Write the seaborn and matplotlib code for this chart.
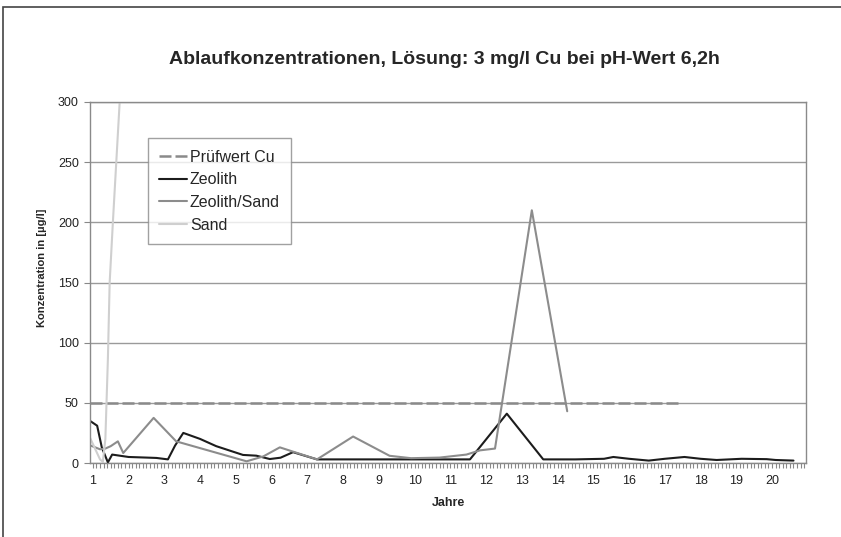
import matplotlib
matplotlib.use("Agg")
import matplotlib.pyplot as plt
from matplotlib.ticker import MultipleLocator
from matplotlib.patches import Rectangle
import seaborn as sns

# values (x = Jahre, y = µg/l)
zeolith_x = [0.92, 1.12, 1.25, 1.42, 1.54, 2.0, 2.5, 2.78, 3.1, 3.3, 3.53, 4.0, 4.45,
             5.2, 5.57, 5.95, 6.25, 6.6, 7.27, 8.0, 9.0, 10.0, 11.0, 11.55, 12.58,
             13.6, 14.5, 15.3, 15.56, 16.0, 16.55, 17.0, 17.55, 18.0, 18.45, 19.15,
             19.85, 20.1, 20.6]
zeolith_y = [35, 31, 13, 0.5, 7, 5, 4.5, 4.2, 3, 14.5, 25, 20, 14,
             6.7, 6.1, 3.3, 4.4, 9, 3, 3, 3, 3, 3, 3, 41,
             3, 3, 3.5, 5, 3.5, 2, 3.5, 5, 3.5, 2.5, 3.5,
             3.2, 2.5, 2]

zs_x = [0.92, 1.2, 1.35, 1.5, 1.7, 1.85, 2.7, 3.33, 5.3, 5.77, 6.23, 7.27, 8.28,
        9.3, 9.9, 10.7, 11.45, 11.83, 12.25, 13.28, 14.27]
zs_y = [14.7, 11.4, 12, 14, 18, 8.3, 37.5, 18, 1.4, 5.5, 13, 3, 22,
        6, 4, 4.5, 7, 10.5, 12, 210, 43]

sand_x = [0.92, 1.2, 1.28, 1.35, 1.42, 1.47, 1.56, 1.655, 1.75, 1.85]
sand_y = [21, 3, 1, 20, 86, 150, 200, 250, 300, 350]

pruef_x = [0.92, 17.4]
pruef_y = [50, 50]

sns.set_style("white")
plt.rcParams["font.family"] = ["Liberation Sans", "DejaVu Sans"]

fig = plt.figure(figsize=(8.41, 5.37), dpi=100)
ax = fig.add_axes([90 / 841, 1 - 463 / 537, 716 / 841, 361 / 537])

ax.yaxis.grid(True, color="#9a9a9a", linewidth=1)
ax.set_axisbelow(True)

sns.lineplot(x=pruef_x, y=pruef_y, ax=ax, color="#8a8a8a", linewidth=1.8,
             estimator=None, label="Prüfwert Cu")
ax.lines[-1].set_dashes((4.8, 1.6))
sns.lineplot(x=zeolith_x, y=zeolith_y, ax=ax, color="#1c1c1c", linewidth=1.5,
             estimator=None, sort=False, label="Zeolith")
sns.lineplot(x=zs_x, y=zs_y, ax=ax, color="#8c8c8c", linewidth=1.5,
             estimator=None, sort=False, label="Zeolith/Sand")
sns.lineplot(x=sand_x, y=sand_y, ax=ax, color="#cfcfcf", linewidth=1.5,
             estimator=None, sort=False, label="Sand")

ax.set_xlim(0.92, 20.95)
ax.set_ylim(0, 300)
ax.set_xticks(range(1, 21))
ax.xaxis.set_minor_locator(MultipleLocator(0.1))
ax.set_yticks(range(0, 301, 50))
ax.tick_params(axis="x", which="both", bottom=True, direction="out", length=3.5,
               width=0.8, color="#888888")
ax.tick_params(axis="x", which="major", labelsize=9, labelcolor="#222222", pad=5)
ax.tick_params(axis="y", which="major", left=True, direction="out", length=4, width=0.8,
               color="#888888", labelsize=9, labelcolor="#222222", pad=4)

for s in ax.spines.values():
    s.set_color("#8a8a8a")
    s.set_linewidth(1)

ax.set_xlabel("Jahre", fontsize=9, fontweight="bold", labelpad=7)
ax.set_ylabel("Konzentration in [µg/l]", fontsize=8, fontweight="bold")
ax.yaxis.set_label_coords(-0.060, 0.54)
fig.suptitle("Ablaufkonzentrationen, Lösung: 3 mg/l Cu bei pH-Wert 6,2h",
             x=444 / 841, y=1 - 60 / 537, va="center", fontsize=14, fontweight="bold")

leg = ax.legend(loc="upper left", bbox_to_anchor=(0.081, 0.900), borderaxespad=0,
                fontsize=11.5, handlelength=1.75, handletextpad=0.15, labelspacing=0.48,
                borderpad=0.72, frameon=True, fancybox=False)
leg.get_frame().set_edgecolor("#8a8a8a")
leg.get_frame().set_linewidth(1)

# outer chart frame (only top and left edge visible in the crop)
fig.patches.append(Rectangle((3 / 841, -0.2), 1.2, 1.2 - 7 / 537,
                             transform=fig.transFigure, fill=False,
                             edgecolor="#444444", linewidth=1.2))

fig.savefig("out.png", dpi=100)
